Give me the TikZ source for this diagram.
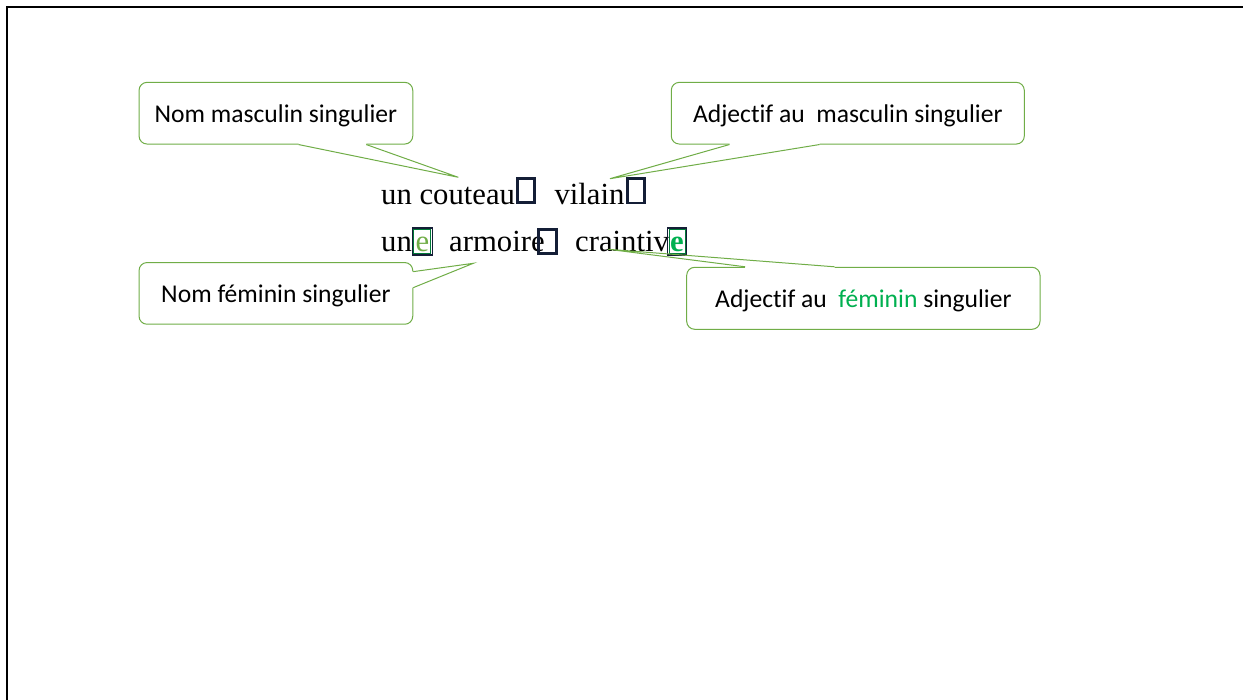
\documentclass[tikz,border=0pt]{standalone}
\usepackage{fontspec}
\setmainfont{Liberation Serif}
\newfontfamily\calibri[Ligatures=NoCommon]{Carlito}
\usetikzlibrary{calc}
\definecolor{cgreen}{HTML}{70AD47}
\definecolor{fgreen}{HTML}{00B050}
\definecolor{navy}{HTML}{141E36}
\tikzset{
  callout/.style={draw=cgreen, line width=1pt, fill=white, rounded corners=8pt,
    minimum width=#1, minimum height=61.7pt, inner sep=0pt, text depth=0pt,
    font=\calibri\fontsize{25.6}{30}\selectfont},
  ptrline/.style={draw=cgreen, line width=1pt, line join=miter},
  ptrfill/.style={fill=white},
  word/.style={anchor=base west, inner sep=0pt, font=\fontsize{30.7}{36}\selectfont},
  gbox/.style={draw=navy, line width=2.8pt},
  ebox/.style={draw=navy, line width=1.5pt},
  einner/.style={draw=fgreen!70!black, line width=1pt},
}
\begin{document}
\begin{tikzpicture}[x=1pt,y=-1pt]
\useasboundingbox (0,0) rectangle (1243,700);
% frame
\draw[line width=2.2pt] (7,1000) -- (7,7) -- (1300,7);

% callouts
\node[callout=273.7pt] (m1) at (275.9,113.2) {Nom masculin singulier};
\node[callout=353pt] (m2) at (847.8,113.2) {Adjectif au\ \ masculin singulier};
\node[callout=273.7pt] (f1) at (275.9,293.4) {Nom féminin singulier};
\node[callout=353.3pt, minimum height=62pt] (f2) at (863.35,298.3) {Adjectif au\ \ \textcolor{fgreen}{féminin} singulier};

% pointer coordinates
\coordinate (t1) at (458.3,177.3);
\coordinate (a1) at ($(m1.south west)+(160,0)$);
\coordinate (b1) at ($(m1.south west)+(227.7,0)$);
\coordinate (t2) at (610,178.7);
\coordinate (a2) at ($(m2.south west)+(58.7,0)$);
\coordinate (b2) at ($(m2.south west)+(148.7,0)$);
\coordinate (t3) at (473.3,263.3);
\coordinate (a3) at ($(f1.north east)+(0,9.6)$);
\coordinate (b3) at ($(f1.north east)+(0,25.6)$);
\coordinate (t4) at (608.3,249.3);
\coordinate (a4) at ($(f2.north west)+(59,0)$);
\coordinate (b4) at ($(f2.north west)+(148.3,0)$);

\fill[ptrfill] (a1) -- (t1) -- (b1) -- ($(b1)+(0,-2)$) -- ($(a1)+(0,-2)$) -- cycle;
\fill[ptrfill] (a2) -- (t2) -- (b2) -- ($(b2)+(0,-2)$) -- ($(a2)+(0,-2)$) -- cycle;
\fill[ptrfill] (a3) -- (t3) -- (b3) -- ($(b3)+(-2,0)$) -- ($(a3)+(-2,0)$) -- cycle;
\fill[ptrfill] (a4) -- (t4) -- (b4) -- ($(b4)+(0,2)$) -- ($(a4)+(0,2)$) -- cycle;

% sentence line 1
\node[word] (w1) at (381,205) {un couteau};
\node[gbox, minimum width=17pt, minimum height=24.5pt, inner sep=0pt] (x1) at (525.8,190.5) {};
\node[word] (w2) at (554.3,205) {vilain};
\node[gbox, minimum width=17pt, minimum height=24.5pt, inner sep=0pt] (x2) at (636.3,190.7) {};

% sentence line 2
\node[word] (w3) at (381,251.7) {un};
\node[ebox, minimum width=20pt, minimum height=27pt, inner sep=0pt] (x3) at (422.3,241.5) {};
\node[einner, minimum width=17pt, minimum height=24pt, inner sep=0pt] (x3i) at (422.3,241.5) {};
\node[word, text=cgreen] (e1) at (415.5,251.7) {e};
\node[word] (w4) at (449,251.7) {armoire};
\node[gbox, minimum width=18pt, minimum height=24.5pt, inner sep=0pt] (x4) at (547.5,241.5) {};
\node[word] (w5) at (575,251.7) {craintiv};
\node[ebox, minimum width=19pt, minimum height=27pt, inner sep=0pt] (x5) at (677.2,241.5) {};
\node[einner, minimum width=16pt, minimum height=24pt, inner sep=0pt] (x5i) at (677.2,241.5) {};
\node[word, text=fgreen, font=\bfseries\fontsize{30.7}{36}\selectfont] (e2) at (670,251.7) {e};

% pointer lines
\draw[ptrline] (a1) -- (t1) -- (b1);
\draw[ptrline] (a2) -- (t2) -- (b2);
\draw[ptrline] (a3) -- (t3) -- (b3);
\draw[ptrline] (a4) -- (t4) -- (b4);
\end{tikzpicture}
\end{document}
